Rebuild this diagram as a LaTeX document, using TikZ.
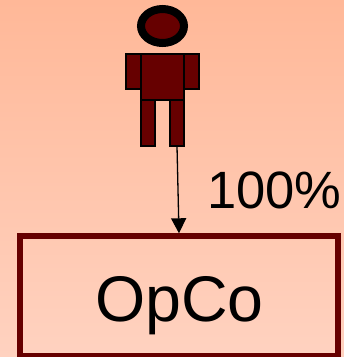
\documentclass[tikz,border=0pt]{standalone}
\usepackage{fontspec}
\setmainfont{Liberation Sans}
\usetikzlibrary{arrows.meta}
\definecolor{maroon}{HTML}{660000}
\definecolor{bgtop}{HTML}{FFB898}
\definecolor{bgbot}{HTML}{FFD2C0}
\tikzset{
  part/.style={draw=black,fill=maroon,line width=2pt},
  txt/.style={inner sep=0pt,text=black,anchor=base},
}
\begin{document}
\begin{tikzpicture}[x=1pt,y=-1pt]
\useasboundingbox (0,0) rectangle (344,357);
\shade[top color=bgtop,bottom color=bgbot,shading angle=0] (0,0) rectangle (344,357);
\draw[part] (126,54) rectangle (141,89);
\draw[part] (184,54) rectangle (199,89);
\draw[part] (141,100) rectangle (155,146);
\draw[part] (170,100) rectangle (184,146);
\node[part,minimum width=43pt,minimum height=46pt,inner sep=0pt] (torso) at (162.5,77) {};
\draw[black,fill=maroon,line width=8pt] (162.5,26) ellipse [x radius=21.5,y radius=17];
\node[draw=maroon,line width=6pt,minimum width=317.7pt,minimum height=119.2pt,inner sep=0pt,outer sep=3pt] (opco) at (179.15,295.9) {};
\node[txt,font=\fontsize{64.5}{64.5}\selectfont] (opcolabel) at (179.5,321) {OpCo};
\node[txt,font=\fontsize{52.5}{52.5}\selectfont] (pct) at (274.5,208) {100\%};
\coordinate (foot) at (177,146);
\draw[black,line width=1.3pt,-{Triangle[length=15pt,width=15pt]}] (foot) -- (opco.north -| 179,0);
\end{tikzpicture}
\end{document}
